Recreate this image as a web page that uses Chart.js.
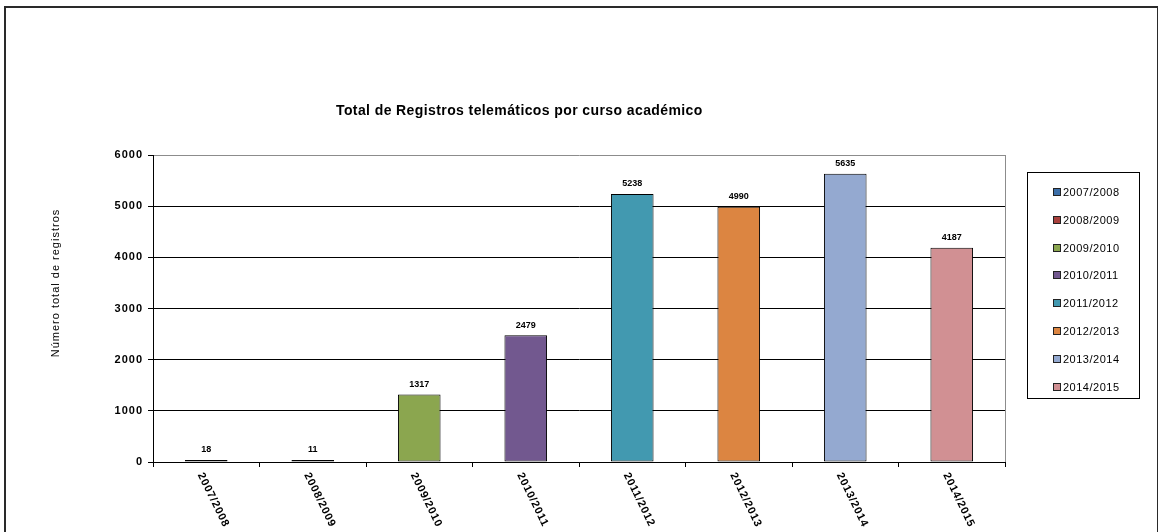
<!DOCTYPE html>
<html>
<head>
<meta charset="utf-8">
<script src="https://cdn.jsdelivr.net/npm/chart.js@4"></script>
<style>
html, body { margin: 0; padding: 0; background: #fff; }
#frame { position: absolute; left: 4px; top: 6px; width: 1151px; height: 560px; border: 2px solid #2a2a2a; }
#wrap { position: absolute; left: 0; top: 0; width: 1158px; height: 532px; }
</style>
</head>
<body>
<div id="frame"></div>
<div id="wrap"><canvas id="registrosChart" width="1158" height="532"></canvas></div>
<script>
var categories = ['2007/2008', '2008/2009', '2009/2010', '2010/2011', '2011/2012', '2012/2013', '2013/2014', '2014/2015'];
var registros = [18, 11, 1317, 2479, 5238, 4990, 5635, 4187];
var barColors = ['#3b6ea8', '#a8403c', '#8ba64f', '#72588f', '#4299b0', '#dc8541', '#94a9d0', '#d19093'];
var yTicks = [0, 1000, 2000, 3000, 4000, 5000, 6000];
var chartTitle = 'Total de Registros telemáticos por curso académico';
var yAxisTitle = 'Número total de registros';

var FONT = '"Liberation Sans", Arial, sans-serif';

// the old excel rendering is a bit wider than Arial, so spread the tick text
var spacingPlugin = {
    id: 'spacing',
    beforeDraw: function(chart) {
        chart.ctx.letterSpacing = '1px';
    }
};

// title, axis title, value labels, rotated category labels and the boxed legend
var decorPlugin = {
    id: 'decor',
    afterDatasetsDraw: function(chart) {
        var ctx = chart.ctx;
        var area = chart.chartArea;
        var meta = chart.getDatasetMeta(0);
        var xScale = chart.scales.x;

        ctx.save();

        // plot area right border
        ctx.strokeStyle = '#8c8c8c';
        ctx.lineWidth = 1;
        ctx.beginPath();
        ctx.moveTo(Math.round(area.right) + 0.5, area.top);
        ctx.lineTo(Math.round(area.right) + 0.5, area.bottom);
        ctx.stroke();

        ctx.fillStyle = '#000';
        ctx.letterSpacing = '0px';
        ctx.font = 'bold 9px ' + FONT;
        ctx.textAlign = 'center';
        ctx.textBaseline = 'middle';
        meta.data.forEach(function(bar, i) {
            ctx.fillText(String(registros[i]), bar.x, bar.y - 10);
        });

        ctx.letterSpacing = '0.8px';
        ctx.font = 'bold 11px ' + FONT;
        ctx.textAlign = 'left';
        ctx.textBaseline = 'top';
        categories.forEach(function(label, i) {
            var x = xScale.getPixelForValue(i);
            ctx.save();
            ctx.translate(x - 1, area.bottom + 9);
            ctx.rotate(64 * Math.PI / 180);
            ctx.fillText(label, 0, 0);
            ctx.restore();
        });

        ctx.letterSpacing = '0.4px';
        ctx.font = 'bold 14px ' + FONT;
        ctx.textAlign = 'center';
        ctx.textBaseline = 'middle';
        ctx.fillText(chartTitle, area.left + (area.right - area.left) * 0.43, 111);

        ctx.letterSpacing = '1px';
        ctx.font = '11px ' + FONT;
        ctx.save();
        ctx.translate(56, 283);
        ctx.rotate(-Math.PI / 2);
        ctx.fillText(yAxisTitle, 0, 0);
        ctx.restore();

        // legend
        var lx = area.right + 22, ly = area.top + 17, lw = 112, lh = 226;
        ctx.strokeStyle = '#000';
        ctx.lineWidth = 1;
        ctx.strokeRect(Math.round(lx) + 0.5, Math.round(ly) + 0.5, lw, lh);
        ctx.letterSpacing = '0.5px';
        ctx.font = '11px ' + FONT;
        ctx.textAlign = 'left';
        categories.forEach(function(label, i) {
            var cy = Math.round(ly + 20 + i * 27.8);
            ctx.fillStyle = barColors[i];
            ctx.fillRect(lx + 26.5, cy - 3.5, 7, 7);
            ctx.strokeStyle = '#222';
            ctx.strokeRect(lx + 26.5, cy - 3.5, 7, 7);
            ctx.fillStyle = '#000';
            ctx.fillText(label, lx + 36, cy + 0.5);
        });

        ctx.restore();
    }
};

new Chart(document.getElementById('registrosChart'), {
    type: 'bar',
    data: {
        labels: categories,
        datasets: [{
            label: 'Registros',
            data: registros,
            backgroundColor: barColors,
            borderColor: '#000',
            borderWidth: 1,
            borderSkipped: false,
            minBarLength: 2,
            categoryPercentage: 1,
            barPercentage: 0.4
        }]
    },
    options: {
        responsive: false,
        animation: false,
        devicePixelRatio: 1,
        layout: {
            padding: { left: 108, top: 155, right: 153, bottom: 0 }
        },
        plugins: {
            legend: { display: false },
            title: { display: false },
            tooltip: { enabled: false }
        },
        scales: {
            x: {
                offset: true,
                grid: {
                    offset: true,
                    drawOnChartArea: false,
                    drawTicks: true,
                    tickLength: 5,
                    tickColor: '#000'
                },
                border: { color: '#000', width: 1 },
                ticks: { display: false },
                afterFit: function(scale) { scale.height = 70; }
            },
            y: {
                min: 0,
                max: 6000,
                afterBuildTicks: function(scale) {
                    scale.ticks = yTicks.map(function(v) { return { value: v }; });
                },
                grid: {
                    color: function(c) { return c.tick && c.tick.value === 6000 ? '#8c8c8c' : '#000'; },
                    tickColor: '#000',
                    tickLength: 5
                },
                border: { color: '#000', width: 1 },
                ticks: {
                    color: '#000',
                    padding: 5,
                    font: { family: FONT, size: 11, weight: 'bold' },
                    callback: function(value) { return String(value); }
                },
                afterFit: function(scale) { scale.width = 45; }
            }
        }
    },
    plugins: [spacingPlugin, decorPlugin]
});
</script>
</body>
</html>
